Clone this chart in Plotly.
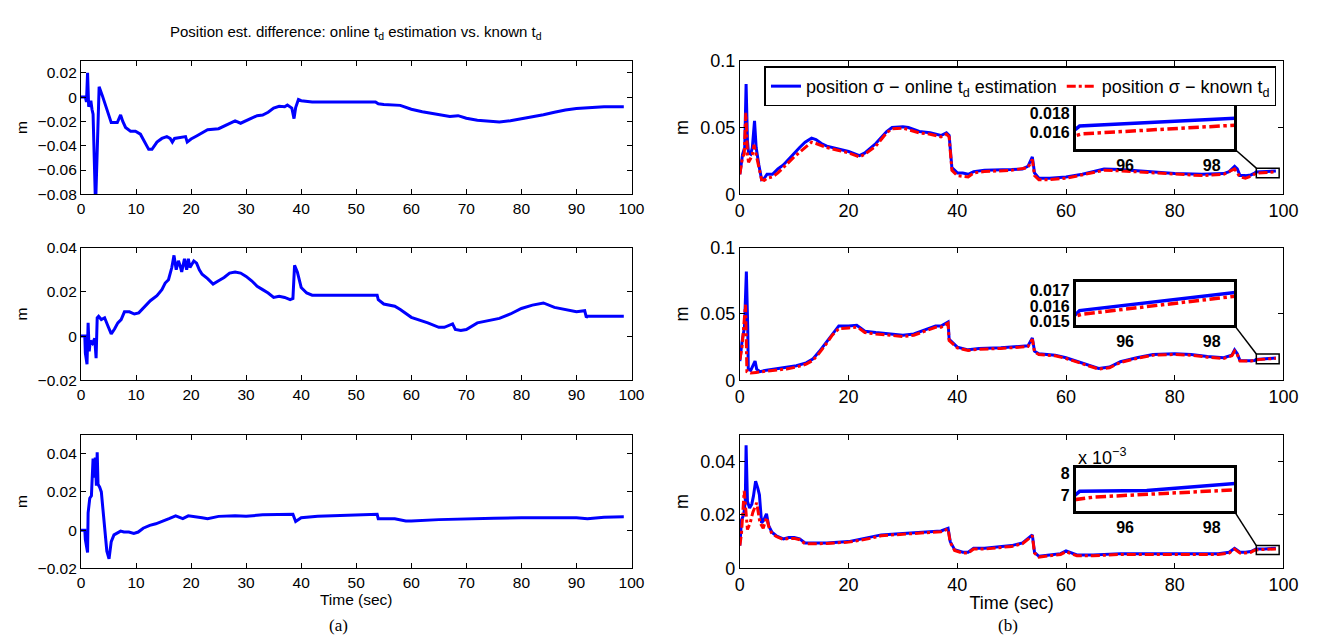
import plotly.graph_objects as go

# ---------------- data ----------------
# (a) position estimate difference, three components
t_dx = [0, 0.8, 1.0, 1.2, 1.4, 1.8, 2.0, 2.2, 2.65, 3.3, 3.9, 4.5, 5.1, 5.5, 6.6, 7.2, 7.6, 8.1, 9, 9.9,
        10.8, 11.7, 12.3, 12.9, 13.8, 14.7, 15.6, 16.2, 16.6, 17, 18, 19, 19.3, 20, 21, 22, 23, 25, 26, 27,
        28, 29, 30, 31, 32, 33, 34, 35, 36, 37, 37.5, 38.3, 38.7, 39, 39.5, 40, 42, 45, 50, 53.5,
        54, 55, 58, 60, 62, 65, 67, 68.5, 70, 72, 74, 76, 78, 80, 82, 84, 86, 88, 90, 92, 93, 95, 98.6]
dx = [0, 0, -0.004, 0.02, -0.008, -0.003, -0.01, -0.014, -0.09, 0.0085, 0.001, -0.008, -0.016, -0.021,
      -0.021, -0.0147, -0.02, -0.025, -0.028, -0.028, -0.0305, -0.0385, -0.043, -0.043, -0.037, -0.034,
      -0.0325, -0.034, -0.037, -0.034, -0.033, -0.0325, -0.037, -0.0345, -0.032, -0.0293, -0.0268, -0.026,
      -0.024, -0.0215, -0.0195, -0.0215, -0.0195, -0.017, -0.0153, -0.0148, -0.0125, -0.009, -0.0075,
      -0.008, -0.0065, -0.009, -0.0177, -0.0086, -0.002, -0.003, -0.004, -0.004, -0.004, -0.004,
      -0.0055, -0.006, -0.0068, -0.01, -0.012, -0.0145, -0.016, -0.0153, -0.0174, -0.019, -0.0197,
      -0.0205, -0.0195, -0.018, -0.0164, -0.0145, -0.0125, -0.0106, -0.0094, -0.0088, -0.008, -0.008, -0.008]

t_dy = [0, 0.7, 0.8, 1.1, 1.3, 1.5, 1.7, 2.1, 2.5, 2.75, 2.95, 3.2, 3.7, 4.3, 4.9, 5.5, 6.1, 6.7, 7.3, 7.9,
        8.8, 9.7, 10.5, 11.4, 12.6, 13.8, 14.7, 15.3, 15.9, 16.5, 16.9, 17.3, 17.7, 18, 18.3, 18.8, 19.2,
        19.5, 19.8, 20.5, 21, 21.5, 22, 23, 24, 25, 26, 27, 28, 29, 30, 31, 32, 33, 34, 35, 36, 37, 38,
        38.5, 38.8, 39.3, 40, 41, 42, 45, 50, 53.8, 54, 55, 57, 58, 60, 62, 63, 65, 66, 67.5, 68, 69, 70,
        72, 74, 76, 78, 80, 82, 84, 86, 88, 90, 91.5, 91.8, 92, 95, 98.6]
dy = [0, 0, -0.0077, -0.0127, 0.006, -0.0069, -0.002, -0.0033, -0.001, -0.01, 0.0083, 0.009, 0.0075,
      0.0083, 0.0046, 0.001, 0.0032, 0.006, 0.0075, 0.011, 0.011, 0.010, 0.0105, 0.0127, 0.016, 0.0183,
      0.021, 0.024, 0.0255, 0.031, 0.0365, 0.03, 0.034, 0.032, 0.029, 0.035, 0.03, 0.035, 0.031, 0.034,
      0.033, 0.030, 0.028, 0.026, 0.0235, 0.025, 0.0265, 0.0285, 0.029, 0.0285, 0.027, 0.025, 0.0225,
      0.021, 0.0195, 0.0175, 0.018, 0.0175, 0.0165, 0.017, 0.032, 0.029, 0.022, 0.0195, 0.0185, 0.0185,
      0.0185, 0.0185, 0.0165, 0.0145, 0.0135, 0.012, 0.0085, 0.007, 0.006, 0.004, 0.004, 0.0055, 0.003,
      0.0025, 0.003, 0.006, 0.007, 0.008, 0.010, 0.0125, 0.014, 0.015, 0.013, 0.012, 0.011, 0.0115,
      0.0085, 0.009, 0.009, 0.009]

t_dz = [0, 0.7, 0.8, 1.2, 1.3, 1.6, 1.9, 2.2, 2.5, 2.6, 2.8, 2.95, 3.1, 3.4, 3.7, 4.2, 4.7, 5.1, 5.5, 6.0,
        6.9, 7.2, 7.8, 8.7, 9.6, 10.4, 11.3, 12.5, 13.6, 14.8, 16, 17.2, 17.8, 18.5, 19.5, 20.5, 22, 23,
        25, 28, 30, 33, 36, 38.5, 39, 40, 43, 47, 50, 53.8, 54, 57, 59, 60, 65, 70, 75, 80, 90, 92, 95, 98.6]
dz = [0, 0, -0.005, -0.0117, 0.009, 0.0167, 0.018, 0.0375, 0.0275, 0.038, 0.0233, 0.0408, 0.024, 0.0225,
      0.02, 0.0025, -0.011, -0.015, -0.006, -0.0025, -0.001, -0.0005, -0.001, -0.001, -0.0017, -0.001,
      0.001, 0.0025, 0.0033, 0.0045, 0.006, 0.0075, 0.0067, 0.006, 0.0075, 0.0072, 0.0065, 0.006, 0.0072,
      0.0075, 0.0073, 0.008, 0.0083, 0.0083, 0.0045, 0.0065, 0.0073, 0.0077, 0.0078, 0.0083, 0.006, 0.006,
      0.0048, 0.0048, 0.0055, 0.006, 0.0062, 0.0065, 0.0065, 0.006, 0.0068, 0.007]

# (b) position sigma, online t_d estimation (blue) and known t_d (red)
t_sx_on = [0, 0.5, 0.9, 1.15, 1.4, 1.6, 2.0, 2.3, 2.7, 3.0, 3.5, 4.0, 4.5, 5, 6, 7, 8, 10, 11, 12, 13.2,
           14, 15, 16, 18, 20, 22, 23, 25, 27, 28, 30, 31, 33, 35, 37, 38, 38.5, 39, 40, 41, 42, 43, 45,
           50, 52, 53, 53.8, 54.2, 55, 57, 60, 63, 65, 67, 70, 75, 80, 85, 89, 90, 91, 91.5, 92, 93, 94,
           94.7, 94.95, 98.6]
sx_on = [0.015, 0.03, 0.035, 0.0825, 0.04, 0.031, 0.03, 0.035, 0.055, 0.035, 0.022, 0.011, 0.012, 0.015,
         0.015, 0.019, 0.022, 0.031, 0.035, 0.039, 0.042, 0.041, 0.038, 0.036, 0.034, 0.032, 0.029, 0.031,
         0.038, 0.047, 0.050, 0.0505, 0.05, 0.047, 0.046, 0.044, 0.046, 0.044, 0.02, 0.016, 0.016, 0.015,
         0.017, 0.018, 0.0185, 0.019, 0.021, 0.028, 0.016, 0.012, 0.012, 0.013, 0.015, 0.017, 0.019, 0.0185,
         0.017, 0.0155, 0.015, 0.0155, 0.017, 0.021, 0.019, 0.014, 0.014, 0.0145, 0.0158, 0.0167, 0.0175]
t_sx_kn = [0, 0.5, 0.8, 1.1, 1.4, 1.6, 2.0, 2.3, 2.6, 3.0, 3.5, 4.0, 4.5, 5, 6, 7, 8, 10, 12, 13.2, 14,
           16, 18, 20, 22, 23, 25, 27, 28, 30, 33, 35, 37, 38, 38.5, 39, 40, 42, 43, 45, 50, 53, 53.8,
           54.2, 55, 57, 60, 65, 67, 70, 75, 80, 85, 89, 91, 92, 93, 94, 94.7, 95.0, 98.6]
sx_kn = [0.015, 0.028, 0.03, 0.061, 0.03, 0.024, 0.027, 0.03, 0.037, 0.03, 0.02, 0.011, 0.0105, 0.012,
         0.013, 0.016, 0.02, 0.028, 0.035, 0.039, 0.038, 0.035, 0.033, 0.031, 0.028, 0.03, 0.036, 0.046,
         0.049, 0.0495, 0.046, 0.045, 0.043, 0.045, 0.043, 0.018, 0.014, 0.013, 0.016, 0.017, 0.018, 0.020,
         0.026, 0.014, 0.011, 0.011, 0.012, 0.016, 0.018, 0.0175, 0.0165, 0.015, 0.014, 0.015, 0.019, 0.013,
         0.012, 0.0135, 0.0155, 0.0159, 0.0168]

t_sy_on = [0, 0.4, 0.85, 1.2, 1.45, 1.55, 2.0, 2.5, 2.8, 3.1, 3.7, 4.9, 6.8, 8.6, 10.4, 12.2, 13.4, 14.6,
           15.8, 17.0, 17.6, 18.2, 20, 21.5, 22, 23, 25, 28, 30, 32, 34, 36, 37, 38.3, 38.5, 39, 40, 42,
           44, 48, 53, 53.8, 54.2, 55, 58, 60, 63, 66, 68, 70, 73, 76, 80, 83, 86, 89, 90.5, 91, 91.5, 92,
           94, 94.7, 94.95, 98.6]
sy_on = [0.0145, 0.029, 0.04, 0.082, 0.04, 0.0085, 0.0075, 0.0115, 0.0145, 0.0085, 0.0066, 0.0077, 0.0088,
         0.0095, 0.011, 0.0132, 0.016, 0.0217, 0.0283, 0.035, 0.0375, 0.041, 0.041, 0.0415, 0.040, 0.037,
         0.036, 0.035, 0.034, 0.035, 0.038, 0.041, 0.041, 0.044, 0.031, 0.029, 0.025, 0.023, 0.024, 0.0245,
         0.026, 0.032, 0.022, 0.02, 0.019, 0.017, 0.013, 0.009, 0.010, 0.014, 0.017, 0.0195, 0.02, 0.0195,
         0.018, 0.017, 0.019, 0.023, 0.02, 0.015, 0.0148, 0.0150, 0.0157, 0.0169]
t_sy_kn = [0, 0.4, 0.9, 1.05, 1.3, 1.6, 2.0, 3.0, 3.7, 4.9, 6.8, 8.6, 10.4, 12.2, 13.4, 14.6, 15.8, 17.0,
           17.6, 18.2, 20, 21.5, 22, 23, 25, 28, 30, 32, 34, 36, 37, 38.3, 38.5, 39, 40, 42, 44, 48, 53,
           53.8, 54.2, 55, 58, 60, 63, 66, 68, 70, 73, 76, 80, 83, 86, 89, 90.5, 91, 91.5, 92, 94, 94.7,
           95.0, 98.6]
sy_kn = [0.0155, 0.025, 0.05, 0.057, 0.0065, 0.006, 0.0055, 0.006, 0.0063, 0.0068, 0.0078, 0.0086, 0.0100,
         0.0122, 0.015, 0.0205, 0.027, 0.034, 0.0365, 0.039, 0.0395, 0.040, 0.039, 0.036, 0.035, 0.034,
         0.033, 0.034, 0.037, 0.040, 0.040, 0.043, 0.030, 0.028, 0.0245, 0.0225, 0.0235, 0.024, 0.0255,
         0.031, 0.0215, 0.0195, 0.0185, 0.0165, 0.0125, 0.0085, 0.0095, 0.0135, 0.0165, 0.019, 0.0195,
         0.019, 0.0175, 0.0165, 0.0185, 0.022, 0.0195, 0.0145, 0.0145, 0.0152, 0.01546, 0.01666]

t_sz_on = [0, 0.3, 0.7, 1.0, 1.15, 1.4, 1.8, 2.2, 2.5, 2.9, 3.3, 3.6, 4.0, 4.4, 4.9, 5.3, 5.9, 6.8, 8, 9,
           10, 11, 12, 14, 16, 20, 24, 26, 30, 34, 37, 38.3, 38.7, 39.5, 41, 42, 43, 45, 50, 52, 53.8,
           54.2, 55, 57, 59, 60, 62, 65, 70, 75, 80, 85, 88, 90, 91, 92, 93, 94, 94.7, 94.95, 96.5, 98.6]
sz_on = [0.0085, 0.018, 0.02, 0.025, 0.046, 0.025, 0.0226, 0.024, 0.027, 0.0326, 0.03, 0.0275, 0.017,
         0.018, 0.0204, 0.016, 0.0135, 0.012, 0.011, 0.0115, 0.0115, 0.011, 0.0095, 0.0095, 0.0095, 0.01,
         0.0115, 0.0125, 0.013, 0.0135, 0.014, 0.015, 0.01, 0.007, 0.006, 0.006, 0.0075, 0.0075, 0.0085,
         0.0095, 0.0125, 0.006, 0.0045, 0.005, 0.0055, 0.0065, 0.005, 0.005, 0.0055, 0.0055, 0.0055, 0.0055,
         0.0055, 0.006, 0.0075, 0.006, 0.006, 0.0063, 0.0068, 0.0072, 0.00724, 0.00755]
t_sz_kn = [0, 0.3, 0.8, 1.1, 1.4, 1.9, 2.4, 3.1, 3.7, 4.3, 4.9, 5.4, 5.9, 6.8, 8, 9, 10, 11, 12, 14, 16,
           20, 24, 26, 30, 34, 37, 38.3, 38.7, 39.5, 41, 42, 43, 45, 50, 52, 53.8, 54.2, 55, 57, 59, 60,
           62, 65, 70, 75, 80, 85, 88, 90, 91, 92, 93, 94, 94.7, 95.3, 98.6]
sz_kn = [0.0085, 0.013, 0.029, 0.02, 0.0145, 0.017, 0.021, 0.0245, 0.017, 0.015, 0.019, 0.015, 0.013,
         0.0118, 0.0108, 0.0112, 0.0112, 0.0107, 0.0092, 0.0092, 0.0093, 0.0098, 0.0112, 0.0122, 0.0127,
         0.0132, 0.0137, 0.0147, 0.0097, 0.0067, 0.0057, 0.0057, 0.0072, 0.0072, 0.0082, 0.0092, 0.0122,
         0.0057, 0.0042, 0.0047, 0.0052, 0.0062, 0.0047, 0.0047, 0.0052, 0.0052, 0.0052, 0.0052, 0.0052,
         0.0057, 0.0072, 0.0057, 0.0057, 0.006, 0.0068, 0.00695, 0.00727]

# axis ranges / ticks
left_yranges = [[-0.08, 0.03], [-0.02, 0.04], [-0.02, 0.05]]
right_yranges = [[0, 0.1], [0, 0.1], [0, 0.05]]
right_dticks = [0.05, 0.05, 0.02]
inset_xrange = [94.86, 98.52]
inset_yranges = [[0.01437, 0.01893], [0.01475, 0.0176], [0.00633, 0.00824]]
inset_yticks = [[0.016, 0.018], [0.015, 0.016, 0.017], [0.007, 0.008]]
inset_yticktext = [["0.016", "0.018"], ["0.015", "0.016", "0.017"], ["7", "8"]]
inset_xticks = [96, 98]
zoom_rect_x = [95, 99.2]
zoom_rect_y = [[0.0124, 0.0196], [0.0126, 0.0199], [0.0052, 0.0085]]

legend_on = "position σ − online t<sub>d</sub> estimation"
legend_kn = "position σ − known t<sub>d</sub>"
title_a = "Position est. difference: online t<sub>d</sub> estimation vs. known t<sub>d</sub>"

# ---------------- layout geometry (pixels) ----------------
W, H = 1323, 643
LEFT_X = (69, 628)
RIGHT_X = (738, 1290)
ROWS = [(44, 182), (237, 374), (430, 568)]
INSET_X = (1079, 1240)
INSET_ROWS = [(89, 135), (272, 317), (464, 509)]
FONT = "Liberation Sans"
LSIZE = 15.5   # left column text size
RSIZE = 18     # right column text size
BLUE = "rgb(0,0,255)"
RED = "rgb(255,0,0)"


def xd(a, b):
    return [a / W, b / W]


def yd(top, bottom):
    return [1 - bottom / H, 1 - top / H]


fig = go.Figure()

left_series = [(t_dx, dx), (t_dy, dy), (t_dz, dz)]
right_series = [((t_sx_on, sx_on), (t_sx_kn, sx_kn)),
                ((t_sy_on, sy_on), (t_sy_kn, sy_kn)),
                ((t_sz_on, sz_on), (t_sz_kn, sz_kn))]

main_axis = dict(showline=True, linecolor="black", linewidth=1, mirror="ticks", ticks="inside",
                 ticklen=5, tickcolor="black", showgrid=False, zeroline=False)

for r in range(3):
    # ---- left column: axes r+1
    n = r + 1
    xs, ys = left_series[r]
    fig.add_trace(go.Scatter(x=xs, y=ys, mode="lines", line=dict(color=BLUE, width=3),
                             xaxis=f"x{n}", yaxis=f"y{n}", showlegend=False))
    xa = dict(main_axis, domain=xd(*LEFT_X), anchor=f"y{n}", range=[0, 100], tick0=0, dtick=10,
              tickfont=dict(family=FONT, size=LSIZE, color="black"))
    if r == 2:
        xa["title"] = dict(text="Time (sec)", font=dict(family=FONT, size=LSIZE, color="black"), standoff=3)
    fig.layout[f"xaxis{n}"] = xa
    fig.layout[f"yaxis{n}"] = dict(main_axis, domain=yd(*ROWS[r]), anchor=f"x{n}", range=left_yranges[r],
                                   tick0=0, dtick=0.02, tickfont=dict(family=FONT, size=LSIZE, color="black"),
                                   title=dict(text="m", font=dict(family=FONT, size=LSIZE, color="black"),
                                              standoff=6))

    # ---- right column: axes r+4
    m = r + 4
    (to, yo), (tk, yk) = right_series[r]
    fig.add_trace(go.Scatter(x=to, y=yo, mode="lines", line=dict(color=BLUE, width=3),
                             xaxis=f"x{m}", yaxis=f"y{m}", name=legend_on, showlegend=(r == 0)))
    fig.add_trace(go.Scatter(x=tk, y=yk, mode="lines", line=dict(color=RED, width=3, dash="dashdot"),
                             xaxis=f"x{m}", yaxis=f"y{m}", name=legend_kn, showlegend=(r == 0)))
    xa = dict(main_axis, domain=xd(*RIGHT_X), anchor=f"y{m}", range=[0, 100], tick0=0, dtick=20,
              tickfont=dict(family=FONT, size=RSIZE, color="black"))
    if r == 2:
        xa["title"] = dict(text="Time (sec)", font=dict(family=FONT, size=RSIZE, color="black"), standoff=2)
    fig.layout[f"xaxis{m}"] = xa
    fig.layout[f"yaxis{m}"] = dict(main_axis, domain=yd(*ROWS[r]), anchor=f"x{m}", range=right_yranges[r],
                                   tick0=0, dtick=right_dticks[r],
                                   tickfont=dict(family=FONT, size=RSIZE, color="black"),
                                   title=dict(text="m", font=dict(family=FONT, size=RSIZE, color="black"),
                                              standoff=6))

    # ---- inset: axes r+7
    k = r + 7
    fig.add_trace(go.Scatter(x=to, y=yo, mode="lines", line=dict(color=BLUE, width=3.5),
                             xaxis=f"x{k}", yaxis=f"y{k}", showlegend=False))
    fig.add_trace(go.Scatter(x=tk, y=yk, mode="lines", line=dict(color=RED, width=3.5, dash="dashdot"),
                             xaxis=f"x{k}", yaxis=f"y{k}", showlegend=False))
    inset_font = dict(family=FONT, size=16, color="black", weight="bold")
    fig.layout[f"xaxis{k}"] = dict(showline=True, linecolor="black", linewidth=2.5, mirror=True,
                                   ticks="", showgrid=False, zeroline=False, domain=xd(*INSET_X),
                                   anchor=f"y{k}", range=inset_xrange, tickvals=inset_xticks,
                                   tickfont=inset_font)
    fig.layout[f"yaxis{k}"] = dict(showline=True, linecolor="black", linewidth=2.5, mirror=True,
                                   ticks="", showgrid=False, zeroline=False, domain=yd(*INSET_ROWS[r]),
                                   anchor=f"x{k}", range=inset_yranges[r], tickvals=inset_yticks[r],
                                   ticktext=inset_yticktext[r], tickfont=inset_font)

    # zoom rectangle on the main axes
    fig.add_shape(type="rect", xref=f"x{m}", yref=f"y{m}", x0=zoom_rect_x[0], x1=zoom_rect_x[1],
                  y0=zoom_rect_y[r][0], y1=zoom_rect_y[r][1], line=dict(color="black", width=1.5))

    # connector: inset bottom-right corner -> rectangle top-left corner (converted to paper coords)
    mx = xd(*RIGHT_X)
    my = yd(*ROWS[r])
    yr = right_yranges[r]
    px_rect = mx[0] + (zoom_rect_x[0] - 0) / 100 * (mx[1] - mx[0])
    py_rect = my[0] + (zoom_rect_y[r][1] - yr[0]) / (yr[1] - yr[0]) * (my[1] - my[0])
    ix = xd(*INSET_X)
    iy = yd(*INSET_ROWS[r])
    fig.add_shape(type="line", xref="paper", yref="paper", x0=ix[1], y0=iy[0], x1=px_rect, y1=py_rect,
                  line=dict(color="black", width=1.5))

# exponent label for the third inset
fig.add_annotation(x=INSET_X[0] / W, y=1 - INSET_ROWS[2][0] / H, xref="paper", yref="paper",
                   xanchor="left", yanchor="bottom", showarrow=False, yshift=-2,
                   text="x 10<sup>−3</sup>", font=dict(family=FONT, size=RSIZE, color="black"))

# column title and sub-figure labels
fig.add_annotation(x=sum(LEFT_X) / 2 / W, y=1 - 15 / H, xref="paper", yref="paper", showarrow=False,
                   xanchor="center", yanchor="middle", text=title_a,
                   font=dict(family=FONT, size=15, color="black"))
fig.add_annotation(x=331 / W, y=1 - 627 / H, xref="paper", yref="paper", showarrow=False,
                   xanchor="center", yanchor="middle", text="(a)",
                   font=dict(family="Liberation Serif", size=17, color="black"))
fig.add_annotation(x=1010 / W, y=1 - 627 / H, xref="paper", yref="paper", showarrow=False,
                   xanchor="center", yanchor="middle", text="(b)",
                   font=dict(family="Liberation Serif", size=17, color="black"))

fig.update_layout(
    width=W, height=H, margin=dict(l=0, r=0, t=0, b=0),
    paper_bgcolor="white", plot_bgcolor="white",
    legend=dict(orientation="h", x=763 / W, y=1 - 50 / H, xanchor="left", yanchor="top",
                bgcolor="white", bordercolor="black", borderwidth=1.5,
                font=dict(family=FONT, size=RSIZE, color="black"), itemwidth=30,
                tracegroupgap=0),
)

fig.write_html("out.html")
